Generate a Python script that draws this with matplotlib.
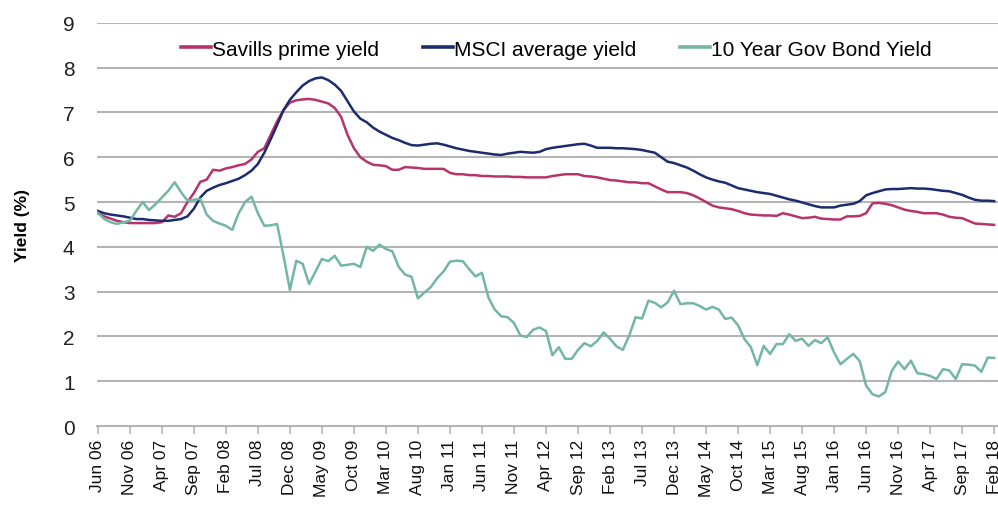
import matplotlib
matplotlib.use("Agg")
import matplotlib.pyplot as plt
import numpy as np

plt.rcParams['font.family'] = ['Liberation Sans', 'DejaVu Sans']

tick_labels = ["Jun 06", "Nov 06", "Apr 07", "Sep 07", "Feb 08", "Jul 08", "Dec 08",
               "May 09", "Oct 09", "Mar 10", "Aug 10", "Jan 11", "Jun 11", "Nov 11",
               "Apr 12", "Sep 12", "Feb 13", "Jul 13", "Dec 13", "May 14", "Oct 14",
               "Mar 15", "Aug 15", "Jan 16", "Jun 16", "Nov 16", "Apr 17", "Sep 17",
               "Feb 18"]

savills = [4.75, 4.68, 4.63, 4.58, 4.55, 4.53, 4.53, 4.53, 4.53, 4.53,
           4.55, 4.70, 4.67, 4.75, 5.00, 5.20, 5.45, 5.50, 5.72, 5.70,
           5.75, 5.78, 5.82, 5.85, 5.95, 6.12, 6.20, 6.50, 6.80, 7.05,
           7.22, 7.27, 7.29, 7.30, 7.28, 7.24, 7.20, 7.10, 6.90, 6.50,
           6.20, 6.00, 5.90, 5.83, 5.82, 5.80, 5.72, 5.72, 5.78, 5.77,
           5.76, 5.74, 5.74, 5.74, 5.74, 5.65, 5.62, 5.62, 5.60, 5.60,
           5.58, 5.58, 5.57, 5.57, 5.57, 5.56, 5.56, 5.55, 5.55, 5.55,
           5.55, 5.58, 5.60, 5.62, 5.62, 5.62, 5.58, 5.57, 5.55, 5.52,
           5.49, 5.48, 5.46, 5.44, 5.44, 5.42, 5.42, 5.35, 5.28, 5.22,
           5.22, 5.22, 5.20, 5.15, 5.08, 5.00, 4.92, 4.88, 4.86, 4.84,
           4.80, 4.75, 4.72, 4.71, 4.70, 4.70, 4.69, 4.75, 4.72, 4.68,
           4.64, 4.65, 4.67, 4.63, 4.62, 4.61, 4.61, 4.68, 4.68, 4.69,
           4.75, 4.97, 4.98, 4.96, 4.93, 4.88, 4.83, 4.80, 4.78, 4.75,
           4.75, 4.75, 4.72, 4.67, 4.65, 4.64, 4.58, 4.52, 4.51, 4.50,
           4.49]

msci = [4.80, 4.75, 4.72, 4.70, 4.68, 4.65, 4.62, 4.62, 4.60, 4.59,
        4.58, 4.58, 4.60, 4.62, 4.68, 4.85, 5.10, 5.25, 5.32, 5.38,
        5.42, 5.47, 5.52, 5.60, 5.70, 5.85, 6.10, 6.40, 6.72, 7.05,
        7.28, 7.45, 7.60, 7.70, 7.76, 7.78, 7.72, 7.62, 7.48, 7.25,
        7.02, 6.86, 6.78, 6.66, 6.57, 6.50, 6.43, 6.38, 6.32, 6.27,
        6.26, 6.28, 6.30, 6.31, 6.28, 6.24, 6.20, 6.17, 6.14, 6.12,
        6.10, 6.08, 6.06, 6.05, 6.08, 6.10, 6.12, 6.11, 6.10, 6.12,
        6.18, 6.21, 6.23, 6.25, 6.27, 6.29, 6.30, 6.26, 6.21, 6.21,
        6.21, 6.20, 6.20, 6.19, 6.18, 6.16, 6.13, 6.10, 6.00, 5.90,
        5.87, 5.82, 5.77, 5.70, 5.62, 5.55, 5.50, 5.46, 5.43, 5.37,
        5.31, 5.28, 5.25, 5.22, 5.20, 5.18, 5.14, 5.10, 5.06, 5.03,
        4.99, 4.95, 4.91, 4.88, 4.88, 4.88, 4.92, 4.94, 4.96, 5.02,
        5.15, 5.20, 5.24, 5.28, 5.29, 5.29, 5.30, 5.31, 5.30, 5.30,
        5.29, 5.27, 5.25, 5.24, 5.20, 5.16, 5.10, 5.05, 5.03, 5.03,
        5.02]

gilts = [4.76, 4.62, 4.55, 4.51, 4.55, 4.58, 4.80, 5.00, 4.82, 4.95,
         5.10, 5.25, 5.44, 5.22, 5.03, 5.05, 5.07, 4.72, 4.58, 4.52,
         4.47, 4.38, 4.75, 5.00, 5.12, 4.75, 4.47, 4.48, 4.51, 3.80,
         3.04, 3.69, 3.62, 3.17, 3.45, 3.73, 3.68, 3.80, 3.58, 3.60,
         3.62, 3.55, 4.00, 3.91, 4.05, 3.95, 3.90, 3.55, 3.38, 3.33,
         2.85, 2.98, 3.10, 3.30, 3.45, 3.67, 3.69, 3.68, 3.50, 3.34,
         3.42, 2.87, 2.60, 2.45, 2.43, 2.30, 2.02, 1.99, 2.15, 2.20,
         2.12, 1.58, 1.76, 1.50, 1.50, 1.70, 1.85, 1.78, 1.90, 2.09,
         1.95, 1.78, 1.70, 2.02, 2.43, 2.40, 2.80, 2.75, 2.65, 2.76,
         3.02, 2.72, 2.74, 2.74, 2.68, 2.60, 2.66, 2.60, 2.39, 2.42,
         2.25, 1.94, 1.76, 1.36, 1.79, 1.61, 1.83, 1.83, 2.05, 1.90,
         1.95, 1.79, 1.92, 1.85, 1.98, 1.64, 1.38, 1.50, 1.61, 1.45,
         0.90, 0.71, 0.66, 0.76, 1.23, 1.44, 1.27, 1.46, 1.18, 1.16,
         1.12, 1.05, 1.27, 1.24, 1.05, 1.38, 1.37, 1.35, 1.21, 1.53,
         1.52]

series_names = ["Savills prime yield", "MSCI average yield", "10 Year Gov Bond Yield"]
series_colors = ["#b8336a", "#1c2b6e", "#74b6a6"]

x = np.arange(len(savills))
tick_pos = np.arange(0, len(savills), 5)

fig = plt.figure(figsize=(9.98, 5.06), dpi=100)
ax = fig.add_axes([0.097, 0.156, 0.903, 0.797])

grid_color = "#b4b4b4"
for v in range(1, 10):
    ax.axhline(v, color=grid_color, linewidth=1.5, zorder=1)

for data, name, col in zip([savills, msci, gilts], series_names, series_colors):
    ax.plot(x, data, color=col, linewidth=1.8, label=name, zorder=3)

ax.set_ylim(0, 9)
ax.set_xlim(-0.16, 140.6)
ax.set_yticks(range(0, 10))
ax.set_yticklabels([str(v) for v in range(0, 10)], fontsize=15, color="#222222")
ax.tick_params(axis='y', length=0, pad=16)

ax.set_xticks(tick_pos)
ax.set_xticklabels(tick_labels[:len(tick_pos)], rotation=90, fontsize=12.5, color="#111111")
ax.tick_params(axis='x', length=6, width=1.2, color=grid_color, pad=3)

for side in ["top", "right", "left"]:
    ax.spines[side].set_visible(False)
ax.spines["bottom"].set_color(grid_color)
ax.spines["bottom"].set_linewidth(1.5)

ax.set_ylabel("Yield (%)", fontsize=12.5, fontweight="bold", labelpad=24)

leg = ax.legend(loc="upper center", bbox_to_anchor=(0.51, 1.005), ncol=3,
                frameon=False, fontsize=15, handlelength=1.45, handletextpad=0.05,
                columnspacing=2.1)
for line in leg.get_lines():
    line.set_linewidth(2.6)

fig.savefig("out.png", dpi=100, facecolor="white")
